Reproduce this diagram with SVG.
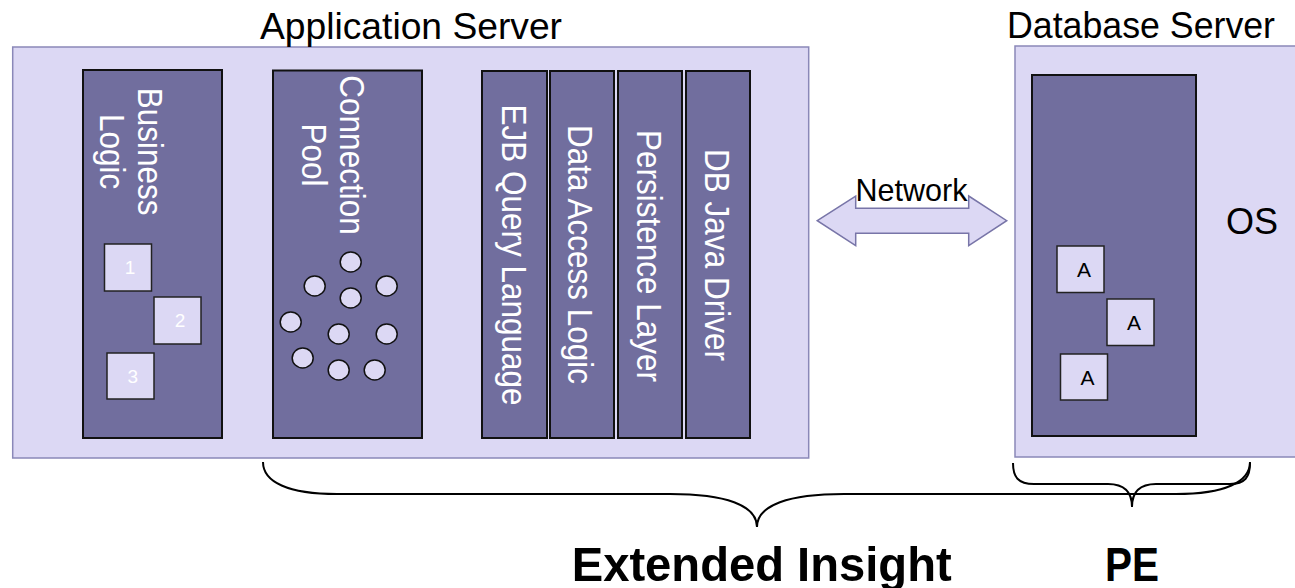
<svg xmlns="http://www.w3.org/2000/svg" width="1295" height="588" viewBox="0 0 1295 588">
<defs>
<style>
.server{fill:#DCD8F4;stroke:#8A88B8;stroke-width:1.5}
.dark{fill:#716E9E;stroke:#111;stroke-width:2}
.sq{fill:#DCD8F4;stroke:#222;stroke-width:1.5}
.pool{fill:#DCD8F4;stroke:#111;stroke-width:1.5}
.title{font-family:"Liberation Sans",Arial,sans-serif;font-size:36px;fill:#000}
.vt{font-family:"Liberation Sans",Arial,sans-serif;font-size:31.5px;fill:#FFFFFF}
.num{font-family:"Liberation Sans",Arial,sans-serif;font-size:19px;fill:#FFFFFF;text-anchor:middle}
.a{font-family:"Liberation Sans",Arial,sans-serif;font-size:21px;fill:#000;text-anchor:middle}
.big{font-family:"Liberation Sans",Arial,sans-serif;font-size:49px;font-weight:bold;fill:#000}
.brace{fill:none;stroke:#000;stroke-width:2}
</style>
</defs>
<rect width="1295" height="588" fill="#FFFFFF"/>

<g id="app-server">
<rect class="server" x="12.7" y="47" width="796" height="411"/>
<text class="title" x="260" y="39" textLength="302" lengthAdjust="spacingAndGlyphs">Application Server</text>
</g>

<g id="db-server">
<rect class="server" x="1015" y="46" width="290" height="411"/>
<text class="title" x="1007" y="38" textLength="268" lengthAdjust="spacingAndGlyphs">Database Server</text>
<text class="title" x="1226" y="234">OS</text>
</g>

<g id="business-logic">
<rect class="dark" x="83" y="70" width="139" height="368"/>
<text class="vt" text-anchor="middle" transform="translate(138.3,151.6) rotate(90) scale(1,1.1)"><tspan x="0" y="0">Business</tspan><tspan x="0" dy="34.8">Logic</tspan></text>
</g>
<g id="square-1"><rect class="sq" x="104.5" y="244" width="47" height="47"/><text class="num" x="130" y="274.3">1</text></g>
<g id="square-2"><rect class="sq" x="154" y="297" width="47" height="47"/><text class="num" x="180" y="327.3">2</text></g>
<g id="square-3"><rect class="sq" x="107" y="353" width="47" height="46"/><text class="num" x="132.7" y="382.8">3</text></g>

<g id="connection-pool">
<rect class="dark" x="273" y="70.5" width="149" height="367.5"/>
<text class="vt" text-anchor="middle" transform="translate(340,155) rotate(90) scale(1,1.1)"><tspan x="0" y="0">Connection</tspan><tspan x="0" dy="34.8">Pool</tspan></text>
<ellipse class="pool" cx="350.7" cy="262" rx="10.5" ry="10"/>
<ellipse class="pool" cx="314.7" cy="286" rx="10.5" ry="10"/>
<ellipse class="pool" cx="386.7" cy="286" rx="10.5" ry="10"/>
<ellipse class="pool" cx="350.7" cy="298" rx="10.5" ry="10"/>
<ellipse class="pool" cx="290.7" cy="322" rx="10.5" ry="10"/>
<ellipse class="pool" cx="338.7" cy="334" rx="10.5" ry="10"/>
<ellipse class="pool" cx="386.7" cy="334" rx="10.5" ry="10"/>
<ellipse class="pool" cx="302.7" cy="358" rx="10.5" ry="10"/>
<ellipse class="pool" cx="338.7" cy="370" rx="10.5" ry="10"/>
<ellipse class="pool" cx="374.7" cy="370" rx="10.5" ry="10"/>
</g>

<g id="ejb-query-language">
<rect class="dark" x="482" y="71" width="65" height="367"/>
<text class="vt" text-anchor="middle" transform="translate(501.7,255) rotate(90) scale(1,1.1)">EJB Query Language</text>
</g>
<g id="data-access-logic">
<rect class="dark" x="550" y="71" width="64" height="367"/>
<text class="vt" text-anchor="middle" transform="translate(568.3,254.5) rotate(90) scale(1,1.1)">Data Access Logic</text>
</g>
<g id="persistence-layer">
<rect class="dark" x="618" y="71" width="64" height="367"/>
<text class="vt" text-anchor="middle" transform="translate(636.7,256) rotate(90) scale(1,1.1)">Persistence Layer</text>
</g>
<g id="db-java-driver">
<rect class="dark" x="686" y="71" width="64" height="367"/>
<text class="vt" text-anchor="middle" transform="translate(705,255) rotate(90) scale(1,1.1)">DB Java Driver</text>
</g>

<g id="database">
<rect class="dark" x="1032" y="75" width="164" height="361"/>
</g>
<g id="a-1"><rect class="sq" x="1057" y="246" width="47" height="46.5"/><text class="a" x="1084" y="276.7">A</text></g>
<g id="a-2"><rect class="sq" x="1107" y="299" width="47" height="46.5"/><text class="a" x="1134" y="329.7">A</text></g>
<g id="a-3"><rect class="sq" x="1060.5" y="354" width="47" height="46"/><text class="a" x="1087.5" y="384.5">A</text></g>

<g id="connectors">
<g id="network">
<polygon points="817.3,220.7 855.7,196 855.7,208.3 968.7,208.3 968.7,196 1006.7,220.7 968.7,245.7 968.7,233.3 855.7,233.3 855.7,245.7" fill="#DCD8F4" stroke="#7875A8" stroke-width="1.5"/>
<text x="911.5" y="201" font-family="'Liberation Sans',Arial,sans-serif" font-size="30.5" text-anchor="middle" fill="#000">Network</text>
</g>
<path class="brace" d="M263,462 C263,482 288,494 337,494 L670,494 C725,494 757,505 757,527 C757,505 789,494 844,494 L1176,494 C1225,494 1250,482 1250,462"/>
<path class="brace" d="M1013,463 C1013,477 1018,484 1034,484 L1108,484 C1124,484 1132,492 1132,507 C1132,492 1140,484 1156,484 L1230,484 C1245,484 1250,477 1250,463"/>
</g>

<g id="labels">
<text class="big" x="571.7" y="580.7" textLength="380" lengthAdjust="spacingAndGlyphs">Extended Insight</text>
<text class="big" x="1105" y="580.7" textLength="54" lengthAdjust="spacingAndGlyphs">PE</text>
</g>
</svg>
